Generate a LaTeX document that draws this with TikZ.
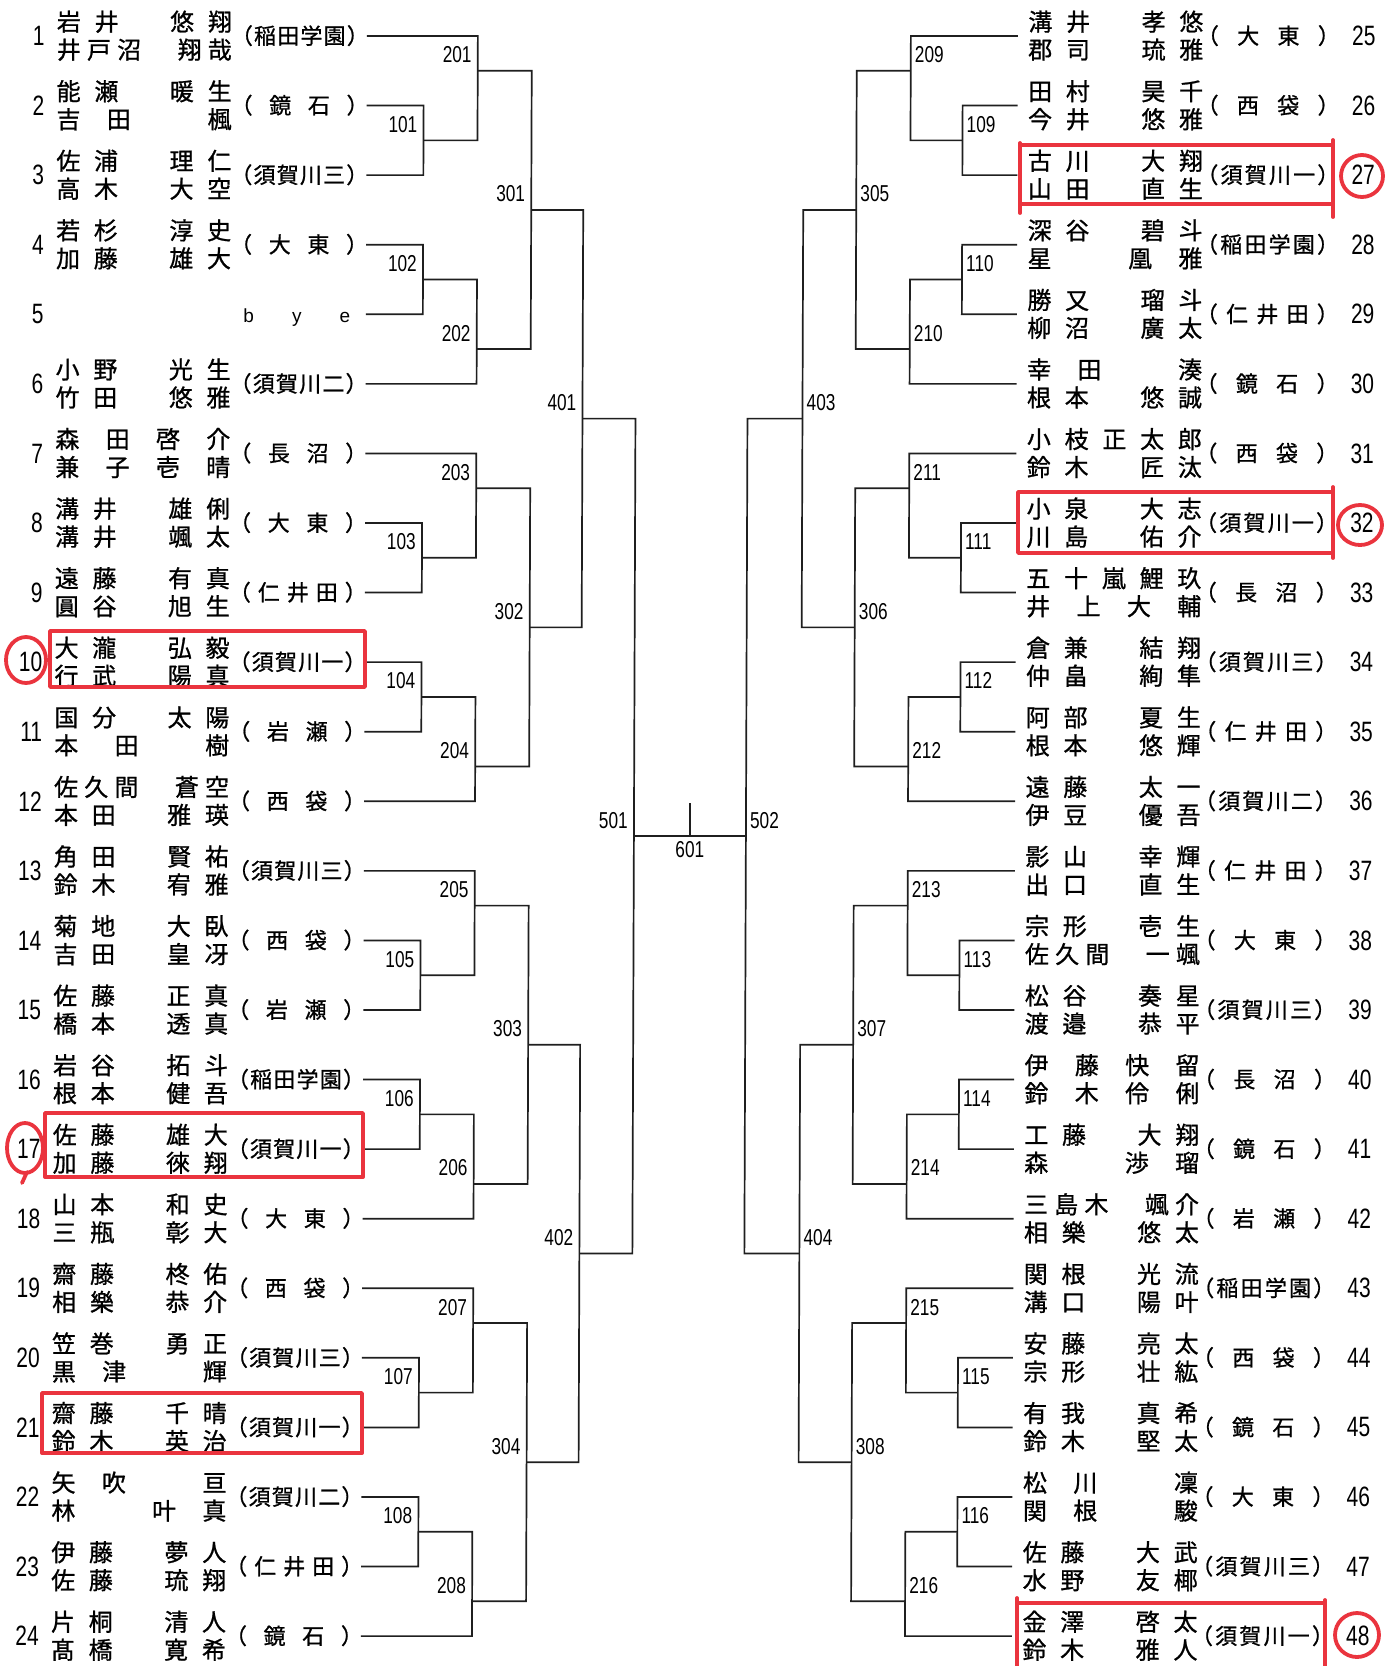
\documentclass[tikz,border=0pt]{standalone}
\usepackage{fontspec}
\setmainfont{Liberation Sans}
\newfontfamily\jpfont[FakeBold=0.9]{Noto Sans CJK JP}
\newfontfamily\numfont[FakeStretch=0.75]{Liberation Sans}
\definecolor{markred}{RGB}{234,52,62}

% one character per cell, cells spread evenly over the box
\def\spreadchars#1{\ifx\relax#1\else\makebox[1em]{#1}\hfil\expandafter\spreadchars\fi}
\newcommand{\nameline}[1]{\makebox[175pt][s]{\expandafter\spreadchars#1\relax\unskip}}
\newcommand{\schoolbox}[2]{\makebox[#1][s]{\makebox[0.5em][r]{（}\hfil\expandafter\spreadchars#2\relax\makebox[0.5em][l]{）}}}

\begin{document}
\begin{tikzpicture}[x=1pt, y=-1pt,
    bracket/.style={line width=1.7pt, draw=black!88},
    lbl/.style={font={\numfont\fontsize{23}{23}\selectfont}, inner sep=0pt},
    seed/.style={font={\numfont\fontsize{28}{28}\selectfont}, inner sep=0pt},
    nm/.style={font={\jpfont\fontsize{24}{24}\selectfont}, inner sep=0pt, text height=19.5pt, text depth=2pt},
    sch/.style={font={\jpfont\fontsize{22}{22}\selectfont}, inner sep=0pt, text height=18pt, text depth=2pt},
    redmark/.style={draw=markred, line width=3.8pt, line cap=round, line join=round}]
  \path[use as bounding box, fill=white] (0,0) rectangle (1396,1666);

  \begin{scope}[xslant=0.0037]
    % left half: entries 1-24
    \foreach \i/\ta/\tb/\sc in {
        1/岩井　悠翔/井戸沼　翔哉/稲田学園, 2/能瀬　暖生/吉田　楓/鏡石,
        3/佐浦　理仁/高木　大空/須賀川三, 4/若杉　淳史/加藤　雄大/大東,
        6/小野　光生/竹田　悠雅/須賀川二, 7/森田啓介/兼子壱晴/長沼,
        8/溝井　雄俐/溝井　颯太/大東, 9/遠藤　有真/圓谷　旭生/仁井田,
        10/大瀧　弘毅/行武　陽真/須賀川一, 11/国分　太陽/本　田　　樹/岩瀬,
        12/佐久間　蒼空/本田　雅瑛/西袋, 13/角田　賢祐/鈴木　宥雅/須賀川三,
        14/菊地　大臥/吉田　皇冴/西袋, 15/佐藤　正真/橋本　透真/岩瀬,
        16/岩谷　拓斗/根本　健吾/稲田学園, 17/佐藤　雄大/加藤　徠翔/須賀川一,
        18/山本　和史/三瓶　彰大/大東, 19/齋藤　柊佑/相樂　恭介/西袋,
        20/笠巻　勇正/黒津　輝/須賀川三, 21/齋藤　千晴/鈴木　英治/須賀川一,
        22/矢吹　亘/林　叶真/須賀川二, 23/伊藤　夢人/佐藤　琉翔/仁井田,
        24/片桐　清人/髙橋　寛希/鏡石}
    {
      \pgfmathsetmacro\yy{36+(\i-1)*69.57}
      \node[nm] (na\i) at (144.5,{\yy-14}) {\nameline{\ta}};
      \node[nm] (nb\i) at (144.5,{\yy+14}) {\nameline{\tb}};
      \node[sch] (s\i) at (300,\yy) {\schoolbox{116pt}{\sc}};
    }
    \node[font={\fontsize{19}{19}\selectfont}, inner sep=0pt, anchor=base] (bye) at (298,322)
      {\makebox[107pt][s]{b\hfil y\hfil e}};
    \foreach \i in {1,...,24} {
      \pgfmathsetmacro\yy{36+(\i-1)*69.57}
      \coordinate (e\i) at (367,\yy);
      \node[seed, anchor=east] (num\i) at (45,\yy) {\i};
    }

    % right half: entries 25-48
    \foreach \i/\ta/\tb/\sc in {
        25/溝井　孝悠/郡司　琉雅/大東, 26/田村　昊千/今井　悠雅/西袋,
        27/古川　大翔/山田　直生/須賀川一, 28/深谷　碧斗/星　凰雅/稲田学園,
        29/勝又　瑠斗/柳沼　廣太/仁井田, 30/幸田　湊/根本　悠誠/鏡石,
        31/小枝正太郎/鈴木　匠汰/西袋, 32/小泉　大志/川島　佑介/須賀川一,
        33/五十嵐鯉玖/井上大輔/長沼, 34/倉兼　結翔/仲畠　絢隼/須賀川三,
        35/阿部　夏生/根本　悠輝/仁井田, 36/遠藤　太一/伊豆　優吾/須賀川二,
        37/影山　幸輝/出口　直生/仁井田, 38/宗形　壱生/佐久間　一颯/大東,
        39/松谷　奏星/渡邉　恭平/須賀川三, 40/伊藤快留/鈴木伶俐/長沼,
        41/工藤　大翔/森　渉瑠/鏡石, 42/三島木　颯介/相樂　悠太/岩瀬,
        43/関根　光流/溝口　陽叶/稲田学園, 44/安藤　亮太/宗形　壮紘/西袋,
        45/有我　真希/鈴木　堅太/鏡石, 46/松川　凜/関根　駿/大東,
        47/佐藤　大武/水野　友椰/須賀川三, 48/金澤　啓太/鈴木　雅人/須賀川一}
    {
      \pgfmathsetmacro\yy{36+(\i-25)*69.57}
      \node[nm] (na\i) at (1116,{\yy-14}) {\nameline{\ta}};
      \node[nm] (nb\i) at (1116,{\yy+14}) {\nameline{\tb}};
      \node[sch] (s\i) at (1268.5,\yy) {\schoolbox{121pt}{\sc}};
      \coordinate (e\i) at (1018,\yy);
      \node[seed, anchor=west] (num\i) at (1352,\yy) {\i};
    }

    % left brackets
    \foreach \m/\x/\r/\a/\b in {
        101/424/2.5/e2/e3, 102/424/4.5/e4/e5, 103/424/8.5/e8/e9, 104/424/10.5/e10/e11,
        105/424/14.5/e14/e15, 106/424/16.5/e16/e17, 107/424/20.5/e20/e21, 108/424/22.5/e22/e23,
        201/478/1.5/e1/m101, 202/478/5.5/m102/e6, 203/478/7.5/e7/m103, 204/478/11.5/m104/e12,
        205/478/13.5/e13/m105, 206/478/17.5/m106/e18, 207/478/19.5/e19/m107, 208/478/23.5/m108/e24,
        301/532/3.5/m201/m202, 302/532/9.5/m203/m204, 303/532/15.5/m205/m206, 304/532/21.5/m207/m208,
        401/584/6.5/m301/m302, 402/584/18.5/m303/m304,
        501/637/12.5/m401/m402}
    {
      \coordinate (m\m) at (\x,{36+(\r-1)*69.57});
      \draw[bracket] (\a) -| (m\m) |- (\b);
      \node[lbl, anchor=base east] (l\m) at ([shift={(-6pt,8pt)}]m\m) {\m};
    }

    % right brackets
    \foreach \m/\x/\r/\a/\b in {
        109/963/2.5/e26/e27, 110/963/4.5/e28/e29, 111/963/8.5/e32/e33, 112/963/10.5/e34/e35,
        113/963/14.5/e38/e39, 114/963/16.5/e40/e41, 115/963/20.5/e44/e45, 116/963/22.5/e46/e47,
        209/911/1.5/e25/m109, 210/911/5.5/m110/e30, 211/911/7.5/e31/m111, 212/911/11.5/m112/e36,
        213/911/13.5/e37/m113, 214/911/17.5/m114/e42, 215/911/19.5/e43/m115, 216/911/23.5/m116/e48,
        305/857/3.5/m209/m210, 306/857/9.5/m211/m212, 307/857/15.5/m213/m214, 308/857/21.5/m215/m216,
        403/804/6.5/m305/m306, 404/804/18.5/m307/m308,
        502/749/12.5/m403/m404}
    {
      \coordinate (m\m) at (\x,{36+(\r-1)*69.57});
      \draw[bracket] (\a) -| (m\m) |- (\b);
      \node[lbl, anchor=base west] (l\m) at ([shift={(4pt,8pt)}]m\m) {\m};
    }

    % final
    \coordinate (m601) at (693,{36+11.5*69.57});
    \coordinate (t601) at (693,803);
    \draw[bracket] (m501) -- (m502);
    \draw[bracket] (m601) -- (t601);
    \node[lbl, anchor=base] (l601) at ([yshift=-21pt]m601) {601};
  \end{scope}

  % red pen marks
  \draw[redmark] (50,631) rectangle (365,687);
  \draw[redmark] (45,1113) rectangle (363,1177);
  \draw[redmark] (42,1393) rectangle (362,1453);
  \draw[redmark] (1020,145) rectangle (1333,204);
  \draw[redmark] (1020,143) -- (1020,213) (1333,140) -- (1333,217);
  \draw[redmark] (1018,492) rectangle (1333,553);
  \draw[redmark] (1333,487) -- (1333,558);
  \draw[redmark] (1017,1603) -- (1325,1603) (1017,1598) -- (1017,1666) (1325,1600) -- (1325,1666);
  \draw[redmark] (26,660) ellipse [x radius=20pt, y radius=23pt];
  \draw[redmark] (25,1148) ellipse [x radius=18pt, y radius=25pt];
  \draw[redmark] (27,1172) -- (22,1183);
  \draw[redmark] (1362,176) ellipse [x radius=21pt, y radius=21pt];
  \draw[redmark] (1360,525) ellipse [x radius=22pt, y radius=20pt];
  \draw[redmark] (1357,1635) ellipse [x radius=22pt, y radius=22pt];
\end{tikzpicture}
\end{document}
